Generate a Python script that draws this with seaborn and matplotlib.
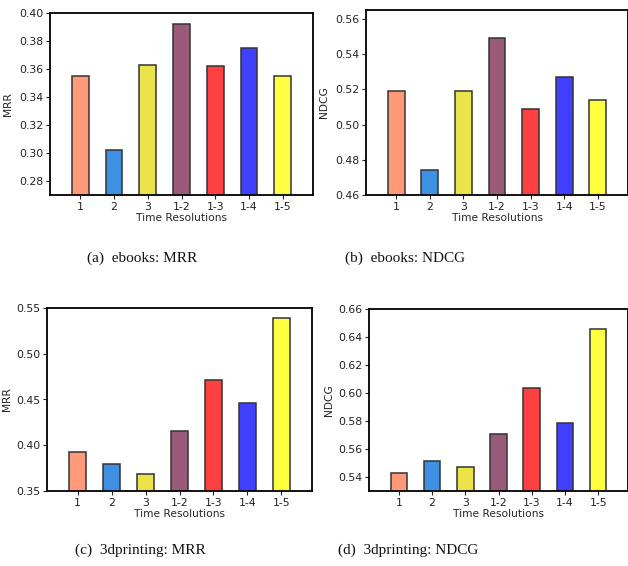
import pandas as pd
import matplotlib
matplotlib.use('Agg')
import matplotlib.pyplot as plt
import seaborn as sns

# Data
resolutions = ['1', '2', '3', '1-2', '1-3', '1-4', '1-5']
bar_colors = ['#fe9a78', '#3d90e2', '#ebe34a', '#9a5a7a', '#ff4040', '#4040ff', '#ffff40']

ebooks_mrr = [0.355, 0.302, 0.363, 0.392, 0.362, 0.375, 0.355]
ebooks_ndcg = [0.519, 0.474, 0.519, 0.549, 0.509, 0.527, 0.514]
printing_mrr = [0.393, 0.380, 0.369, 0.416, 0.471, 0.446, 0.539]
printing_ndcg = [0.5426, 0.5512, 0.547, 0.5705, 0.6036, 0.5786, 0.6457]

captions = ['(a)  ebooks: MRR', '(b)  ebooks: NDCG', '(c)  3dprinting: MRR', '(d)  3dprinting: NDCG']

sns.set_theme(style='ticks')
plt.rcParams['font.family'] = ['DejaVu Sans']

W, H = 628, 566
fig = plt.figure(figsize=(W / 100, H / 100), dpi=100)

# (values, ylabel, ylim, axes box in pixels (left, top, right, bottom), ylabel x pixel, caption centre)
panels = [
    (ebooks_mrr, 'MRR', (0.27, 0.40), (50, 13, 313, 195), 13, (142, 258)),
    (ebooks_ndcg, 'NDCG', (0.46, 0.565), (366, 10, 628, 195), 329, (405, 258)),
    (printing_mrr, 'MRR', (0.35, 0.55), (47, 308, 312, 491), 12, (140, 550)),
    (printing_ndcg, 'NDCG', (0.53, 0.66), (369, 309, 628, 491), 334, (408, 550)),
]

for (vals, ylab, ylim, box, ylab_x, cap_xy), caption in zip(panels, captions):
    l, t, r, b = box
    ax = fig.add_axes([l / W, 1 - b / H, (r - l) / W, (b - t) / H])
    df = pd.DataFrame({'res': resolutions, 'value': vals})
    sns.barplot(data=df, x='res', y='value', hue='res', palette=bar_colors,
                order=resolutions, hue_order=resolutions, legend=False,
                width=0.5, edgecolor='#333333', linewidth=1.1, saturation=1, ax=ax)
    ax.set_ylim(*ylim)
    ax.set_xlim(-0.9, 6.9)
    ax.set_xlabel('Time Resolutions', fontsize=7.7, labelpad=1)
    ax.set_ylabel(ylab, fontsize=7.7)
    ax.yaxis.set_label_coords((ylab_x - l) / (r - l), 0.5)
    ax.tick_params(labelsize=7.8, length=3, width=0.8, pad=2, colors='#222222')
    for sp in ax.spines.values():
        sp.set_visible(True)
        sp.set_linewidth(1.3)
        sp.set_color('black')
    fig.text(cap_xy[0] / W, 1 - cap_xy[1] / H, caption, ha='center', va='center',
             fontsize=11, family=['Liberation Serif'], color='#111111')

fig.savefig('out.png', dpi=100)
plt.close(fig)
